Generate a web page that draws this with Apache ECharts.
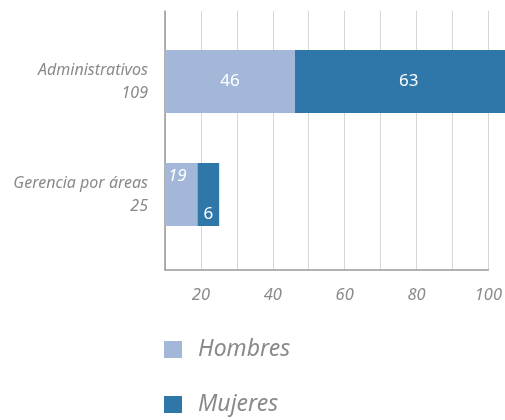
<!DOCTYPE html>
<html>
<head>
<meta charset="utf-8">
<script src="https://cdn.jsdelivr.net/npm/echarts@6/dist/echarts.min.js"></script>
<style>
  html, body { margin: 0; padding: 0; background: #fff; }
  #chart { width: 505px; height: 420px; }
</style>
</head>
<body>
<div id="chart"></div>
<script>
  const categories = ['Gerencia por áreas', 'Administrativos'];
  const totals = [25, 109];
  const hombres = [19, 46];
  const mujeres = [6, 63];
  const xTicks = [20, 40, 60, 80, 100];

  const chart = echarts.init(document.getElementById('chart'));
  const grey = '#8a8a8a';
  const font = 'Noto Sans';

  const option = {
    animation: false,
    legend: {
      orient: 'vertical',
      left: 164,
      top: 338,
      height: 82,
      padding: 0,
      itemWidth: 18,
      itemHeight: 17,
      itemGap: 32,
      icon: 'rect',
      textStyle: { color: grey, fontSize: 23, fontStyle: 'italic', fontFamily: font, padding: [0, 0, 0, 11] },
      data: ['Hombres', 'Mujeres']
    },
    grid: [
      { left: 165, right: 15, top: 11, bottom: 150 },
      { left: 165, right: 15, top: 25, bottom: 169 }
    ],
    xAxis: [
      {
        gridIndex: 0,
        type: 'value',
        min: 10,
        max: 100,
        interval: 10,
        axisLine: { show: true, lineStyle: { color: '#999', width: 1.5 } },
        axisTick: { show: false },
        splitLine: { show: true, lineStyle: { color: '#d6d6d6', width: 1 } },
        axisLabel: {
          color: grey,
          fontSize: 16.5,
          fontStyle: 'italic',
          fontFamily: font,
          margin: 17,
          formatter: v => (xTicks.indexOf(v) >= 0 ? String(v) : '')
        }
      },
      {
        gridIndex: 1,
        type: 'value',
        min: 10,
        max: 100,
        startValue: 10,
        show: false,
        splitLine: { show: false }
      }
    ],
    yAxis: [
      {
        gridIndex: 0,
        type: 'category',
        data: categories,
        axisLine: { show: true, lineStyle: { color: '#999', width: 1.5 } },
        axisTick: { show: false },
        axisLabel: { show: false },
        splitLine: { show: false }
      },
      {
        gridIndex: 1,
        type: 'category',
        data: categories,
        axisLine: { show: false },
        axisTick: { show: false },
        axisLabel: {
          color: grey,
          fontSize: 16,
          fontStyle: 'italic',
          fontFamily: font,
          lineHeight: 23,
          margin: 17,
          align: 'right',
          formatter: (v, i) => v + '\n' + totals[i]
        }
      }
    ],
    series: [
      {
        name: 'Hombres',
        type: 'bar',
        stack: 'total',
        xAxisIndex: 1,
        yAxisIndex: 1,
        clip: false,
        barWidth: 63,
        itemStyle: { color: '#a3b8d8' },
        label: { show: true, position: 'inside', color: '#fff', fontSize: 17, fontFamily: font },
        data: hombres.map((v, i) => i === 0
          ? { value: v, label: { position: 'insideTopLeft', offset: [-2, 0], fontStyle: 'italic' } }
          : v)
      },
      {
        name: 'Mujeres',
        type: 'bar',
        stack: 'total',
        xAxisIndex: 1,
        yAxisIndex: 1,
        clip: false,
        barWidth: 63,
        itemStyle: { color: '#2f76a9' },
        label: { show: true, position: 'inside', color: '#fff', fontSize: 17, fontFamily: font },
        data: mujeres.map((v, i) => i === 0
          ? { value: v, label: { position: 'insideBottom', distance: 3 } }
          : v)
      }
    ]
  };
  chart.setOption(option);
</script>
</body>
</html>
